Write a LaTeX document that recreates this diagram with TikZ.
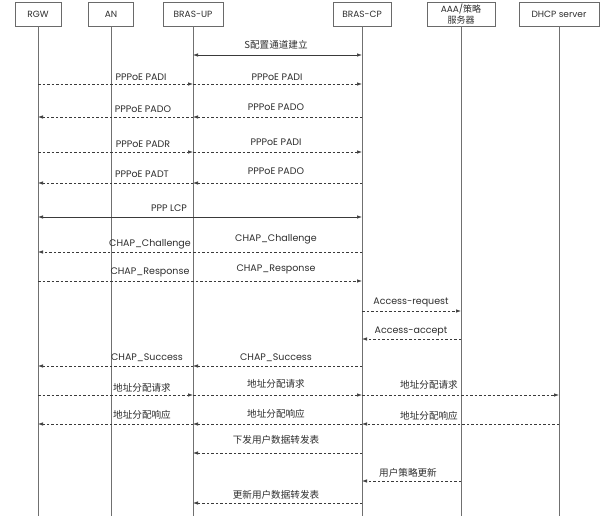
\documentclass[tikz,border=0pt]{standalone}
\usepackage{fontspec}
\setmainfont{Poppins}
\newfontfamily\cjk{Noto Sans CJK SC}
\usetikzlibrary{arrows.meta}
\definecolor{boxgray}{HTML}{6A6A6A}
\definecolor{lifegray}{HTML}{707070}
\definecolor{msgc}{HTML}{3A3A3A}
\definecolor{txt}{HTML}{2E2E2E}
\begin{document}
\begin{tikzpicture}[x=1pt,y=-1pt,
  actor/.style={draw=boxgray, line width=0.8pt, minimum height=24pt, inner sep=0pt,
    font=\fontsize{9}{10.5}\selectfont, text=txt},
  life/.style={draw=lifegray, line width=0.8pt},
  msg/.style={draw=msgc, line width=0.7pt, dash pattern=on 2.5pt off 2pt,
    -{Latex[length=5pt,width=3.5pt]}},
  sync/.style={draw=msgc, line width=0.7pt,
    {Latex[length=5pt,width=3.5pt]}-{Latex[length=5pt,width=3.5pt]}},
  lbl/.style={font=\fontsize{9.5}{10}\selectfont, text=txt, inner sep=0pt},
  clbl/.style={font=\cjk\fontsize{9.6}{10}\selectfont, text=txt, inner sep=0pt},
]
\fill[white] (0,0) rectangle (600,516);
\useasboundingbox (0,0) rectangle (600,516);

% actors
\node[actor, minimum width=46pt] (rgw) at (38,14) {RGW};
\node[actor, minimum width=45pt] (an) at (111,14) {AN};
\node[actor, minimum width=60pt] (up) at (193,14) {BRAS-UP};
\node[actor, minimum width=58pt] (cp) at (362,14) {BRAS-CP};
\node[actor, minimum width=68pt, align=center] (aaa) at (461,14) {AAA/{\cjk 策略}\\{\cjk 服务器}};
\node[actor, minimum width=80pt] (dhcp) at (559,14) {DHCP server};

% lifelines
\coordinate (bottom) at (0,516);
\foreach \a in {rgw,an,up,cp,aaa,dhcp}
  \draw[life] (\a.south) -- (\a.south |- bottom);

% message rows
\coordinate (m1) at (0,55);
\coordinate (m2) at (0,84);
\coordinate (m3) at (0,117);
\coordinate (m4) at (0,152);
\coordinate (m5) at (0,183);
\coordinate (m6) at (0,217);
\coordinate (m7) at (0,252);
\coordinate (m8) at (0,281);
\coordinate (m9) at (0,311);
\coordinate (m10) at (0,339);
\coordinate (m11) at (0,366);
\coordinate (m12) at (0,395);
\coordinate (m13) at (0,424);
\coordinate (m14) at (0,453);
\coordinate (m15) at (0,481);
\coordinate (m16) at (0,503);

% 1
\draw[sync] (up |- m1) -- (cp |- m1);
\node[clbl] (l1) at (276,45) {S配置通道建立};
% 2
\draw[msg] (rgw |- m2) -- (up |- m2);
\draw[msg] (up |- m2) -- (cp |- m2);
\node[lbl] (l2a) at (141,77) {PPPoE PADI};
\node[lbl] (l2b) at (277,77) {PPPoE PADI};
% 3
\draw[msg] (cp |- m3) -- (up |- m3);
\draw[msg] (up |- m3) -- (rgw |- m3);
\node[lbl] (l3a) at (143,109) {PPPoE PADO};
\node[lbl] (l3b) at (276,107) {PPPoE PADO};
% 4
\draw[msg] (rgw |- m4) -- (up |- m4);
\draw[msg] (up |- m4) -- (cp |- m4);
\node[lbl] (l4a) at (143,144) {PPPoE PADR};
\node[lbl] (l4b) at (276,142) {PPPoE PADI};
% 5
\draw[msg] (cp |- m5) -- (up |- m5);
\draw[msg] (up |- m5) -- (rgw |- m5);
\node[lbl] (l5a) at (142,174) {PPPoE PADT};
\node[lbl] (l5b) at (276,171) {PPPoE PADO};
% 6
\draw[sync] (rgw |- m6) -- (cp |- m6);
\node[lbl] (l6) at (169,208) {PPP LCP};
% 7
\draw[msg] (cp |- m7) -- (rgw |- m7);
\node[lbl] (l7a) at (150,244) {CHAP\_Challenge};
\node[lbl] (l7b) at (276,239) {CHAP\_Challenge};
% 8
\draw[msg] (rgw |- m8) -- (cp |- m8);
\node[lbl] (l8a) at (150,272) {CHAP\_Response};
\node[lbl] (l8b) at (276,269) {CHAP\_Response};
% 9
\draw[msg] (cp |- m9) -- (aaa |- m9);
\node[lbl] (l9) at (411,302) {Access-request};
% 10
\draw[msg] (aaa |- m10) -- (cp |- m10);
\node[lbl] (l10) at (411,331) {Access-accept};
% 11
\draw[msg] (cp |- m11) -- (up |- m11);
\draw[msg] (up |- m11) -- (rgw |- m11);
\node[lbl] (l11a) at (147,358) {CHAP\_Success};
\node[lbl] (l11b) at (276,358) {CHAP\_Success};
% 12
\draw[msg] (rgw |- m12) -- (up |- m12);
\draw[msg] (up |- m12) -- (cp |- m12);
\draw[msg] (cp |- m12) -- (dhcp |- m12);
\node[clbl] (l12a) at (142,388) {地址分配请求};
\node[clbl] (l12b) at (276,384) {地址分配请求};
\node[clbl] (l12c) at (429,385) {地址分配请求};
% 13
\draw[msg] (dhcp |- m13) -- (cp |- m13);
\draw[msg] (cp |- m13) -- (up |- m13);
\draw[msg] (up |- m13) -- (rgw |- m13);
\node[clbl] (l13a) at (142,415) {地址分配响应};
\node[clbl] (l13b) at (276,414) {地址分配响应};
\node[clbl] (l13c) at (429,416) {地址分配响应};
% 14
\draw[msg] (cp |- m14) -- (up |- m14);
\node[clbl] (l14) at (276,440) {下发用户数据转发表};
% 15
\draw[msg] (aaa |- m15) -- (cp |- m15);
\node[clbl] (l15) at (408,473) {用户策略更新};
% 16
\draw[msg] (cp |- m16) -- (up |- m16);
\node[clbl] (l16) at (276,495) {更新用户数据转发表};
\end{tikzpicture}
\end{document}
